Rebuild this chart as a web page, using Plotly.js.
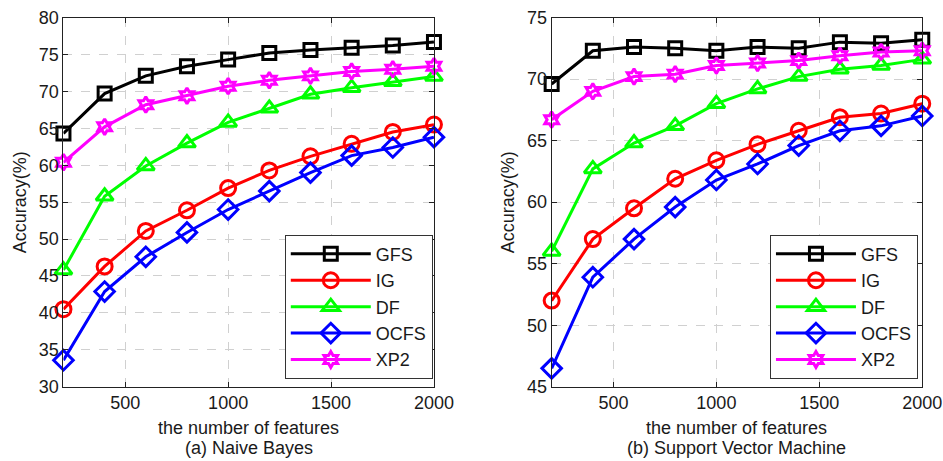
<!DOCTYPE html>
<html>
<head>
<meta charset="utf-8">
<script src="https://cdn.plot.ly/plotly-3.0.1.min.js"></script>
<style>html,body{margin:0;padding:0;background:#fff;}#chart{width:943px;height:461px;}</style>
</head>
<body>
<div id="chart"></div>
<script>
const features = [200, 400, 600, 800, 1000, 1200, 1400, 1600, 1800, 2000];
const seriesNames = ["GFS", "IG", "DF", "OCFS", "XP2"];

// (a) Naive Bayes
const nbGFS  = [64.3, 69.7, 72.1, 73.4, 74.3, 75.2, 75.6, 75.9, 76.2, 76.7];
const nbIG   = [40.5, 46.3, 51.1, 53.9, 56.9, 59.3, 61.2, 62.9, 64.5, 65.5];
const nbDF   = [45.8, 55.8, 59.9, 63.0, 65.8, 67.7, 69.6, 70.5, 71.3, 72.0];
const nbOCFS = [33.6, 42.9, 47.6, 50.9, 54.0, 56.5, 59.0, 61.3, 62.4, 63.8];
const nbXP2  = [60.4, 65.2, 68.2, 69.4, 70.7, 71.5, 72.1, 72.7, 73.0, 73.4];

// (b) Support Vector Machine
const svmGFS  = [69.6, 72.3, 72.6, 72.5, 72.3, 72.6, 72.5, 73.0, 72.9, 73.2];
const svmIG   = [52.0, 57.0, 59.5, 61.9, 63.4, 64.7, 65.8, 66.9, 67.2, 68.0];
const svmDF   = [56.0, 62.7, 64.8, 66.2, 68.0, 69.2, 70.2, 70.8, 71.1, 71.6];
const svmOCFS = [46.5, 53.9, 57.0, 59.6, 61.8, 63.1, 64.6, 65.8, 66.2, 67.0];
const svmXP2  = [66.7, 69.0, 70.2, 70.4, 71.1, 71.3, 71.5, 71.9, 72.2, 72.3];

const xTicks = [500, 1000, 1500, 2000];
const yTicksA = [30, 35, 40, 45, 50, 55, 60, 65, 70, 75, 80];
const yTicksB = [45, 50, 55, 60, 65, 70, 75];

const colors = ["#000000", "#ff0000", "#00ff00", "#0000ff", "#ff00ff"];
const symbols = ["square-open", "circle-open", "triangle-up-open", "diamond-open", "hexagram-open"];
const sizes = [13, 15, 15, 15, 12];

const nbData = [nbGFS, nbIG, nbDF, nbOCFS, nbXP2];
const svmData = [svmGFS, svmIG, svmDF, svmOCFS, svmXP2];

const traces = [];
function addSet(data, xa, ya, leg, grpPrefix) {
  data.forEach((ys, i) => {
    traces.push({
      x: features, y: ys, xaxis: xa, yaxis: ya,
      type: "scatter", mode: "lines+markers",
      name: seriesNames[i], legend: leg, legendgroup: grpPrefix + i,
      line: {color: colors[i], width: 3},
      marker: {symbol: symbols[i], size: sizes[i], color: colors[i], line: {color: colors[i], width: 3}},
      cliponaxis: false
    });
  });
}
addSet(nbData, "x", "y", "legend", "a");
addSet(svmData, "x2", "y2", "legend2", "b");

const font = {family: "Liberation Sans, Arial, sans-serif", size: 18, color: "#1a1a1a"};
function xaxis(domain, anchor) {
  return {
    domain: domain, anchor: anchor, range: [200, 2000], tickvals: xTicks,
    ticks: "inside", ticklen: 5, tickcolor: "#222", showline: true, mirror: "ticks",
    linecolor: "#222", linewidth: 1, showgrid: true, gridcolor: "#d0d0d0", griddash: "dash",
    zeroline: false, tickfont: font
  };
}
function yaxis(domain, anchor, range, ticks) {
  return {
    domain: domain, anchor: anchor, range: range, tickvals: ticks,
    ticks: "inside", ticklen: 5, tickcolor: "#222", showline: true, mirror: "ticks",
    linecolor: "#222", linewidth: 1, showgrid: true, gridcolor: "#d0d0d0", griddash: "dash",
    zeroline: false, tickfont: font,
    title: {text: "Accuracy(%)", font: font, standoff: 7}
  };
}
const legendBase = {
  bgcolor: "#ffffff", bordercolor: "#333", borderwidth: 1,
  font: font, itemwidth: 80, tracegroupgap: 0,
  xanchor: "left", yanchor: "top", y: 0.491
};

const layout = {
  width: 943, height: 461,
  margin: {l: 0, r: 0, t: 0, b: 0},
  paper_bgcolor: "#ffffff", plot_bgcolor: "#ffffff",
  showlegend: true,
  xaxis: xaxis([0.0673, 0.4602], "y"),
  yaxis: yaxis([0.161, 0.962], "x", [30, 80], yTicksA),
  xaxis2: xaxis([0.585, 0.978], "y2"),
  yaxis2: yaxis([0.161, 0.962], "x2", [45, 75], yTicksB),
  legend: Object.assign({}, legendBase, {x: 0.302}),
  legend2: Object.assign({}, legendBase, {x: 0.8165}),
  annotations: [
    {xref: "paper", yref: "paper", x: 0.2638, y: 1 - 428/461, text: "the number of features", showarrow: false, font: font, xanchor: "center", yanchor: "middle"},
    {xref: "paper", yref: "paper", x: 0.2638, y: 1 - 448/461, text: "(a) Naive Bayes", showarrow: false, font: font, xanchor: "center", yanchor: "middle"},
    {xref: "paper", yref: "paper", x: 0.7815, y: 1 - 428/461, text: "the number of features", showarrow: false, font: font, xanchor: "center", yanchor: "middle"},
    {xref: "paper", yref: "paper", x: 0.7815, y: 1 - 448/461, text: "(b) Support Vector Machine", showarrow: false, font: font, xanchor: "center", yanchor: "middle"}
  ]
};

Plotly.newPlot("chart", traces, layout, {staticPlot: true, displayModeBar: false});
</script>
</body>
</html>
